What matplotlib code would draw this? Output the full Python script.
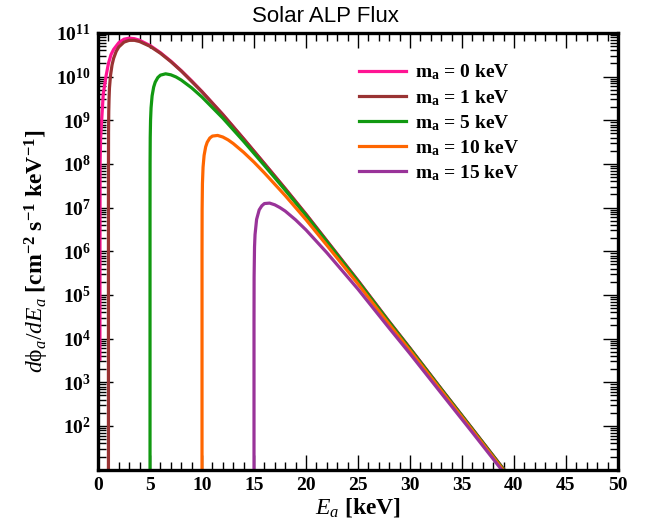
#Solar ALP flux for several axion masses
import numpy as np
import matplotlib.pyplot as plt
from matplotlib.ticker import MultipleLocator, LogLocator, FuncFormatter, NullFormatter

plt.rcParams['font.family'] = 'Liberation Serif'
plt.rcParams['mathtext.fontset'] = 'custom'
plt.rcParams['mathtext.rm'] = 'Liberation Serif'
plt.rcParams['mathtext.it'] = 'Liberation Serif:italic'
plt.rcParams['mathtext.bf'] = 'Liberation Serif:bold'

#values, energy in keV, flux in cm^-2 s^-1 keV^-1
e_m0 = [0.18, 0.185, 0.19, 0.2, 0.25, 0.35, 0.5, 0.76, 1, 1.25, 1.5, 2, 2.5, 3, 3.5, 4, 5, 6, 7,
        8, 9, 10, 12, 14, 16, 18, 20, 22, 25, 28, 30, 33, 36, 39, 40]
flux_m0 = [3.4e3, 1.0e5, 3.0e6, 1.0e8, 4.0e8, 1.0e9, 4.0e9, 1.0e10, 2.0e10,
           3.2e10, 4.2e10, 6.0e10, 7.2e10, 7.6e10, 7.38e10, 6.79e10, 5.15e10, 3.53e10, 2.26e10,
           1.37e10, 8.01e9, 4.53e9, 1.36e9, 3.78e8, 1.02e8, 2.73e7, 7.07e6, 1.74e6, 2.13e5,
           2.45e4, 6.05e3, 712, 86.0, 10.3, 5.0]

e_m1 = [1.0, 1.0001, 1.001, 1.01, 1.03, 1.06, 1.1, 1.2, 1.35, 1.5, 1.75, 2, 2.5, 3, 3.5, 4, 5, 6, 7, 8,
        10, 12, 14, 16, 18, 20, 22, 25, 28, 30, 33, 36, 39, 40]
flux_m1 = [1.0, 5.2e6, 5.2e7, 5.3e8, 1.58e9, 3.18e9, 5.56e9, 1.07e10, 1.87e10, 2.63e10,
           3.80e10, 4.79e10, 6.17e10, 6.78e10, 6.78e10, 6.36e10, 4.94e10, 3.43e10, 2.21e10, 1.35e10,
           4.49e9, 1.35e9, 3.76e8, 1.02e8, 2.72e7, 7.06e6, 1.74e6, 2.13e5, 2.45e4, 6.04e3,
           711, 85.9, 10.3, 5.0]

e_m5 = [5.0, 5.0005, 5.005, 5.02, 5.05, 5.1, 5.2, 5.35, 5.5, 5.75, 6, 6.5, 7, 7.5, 8, 9, 10, 12, 14, 16,
        18, 20, 22, 25, 28, 30, 33, 36, 39, 40]
flux_m5 = [1.0, 1.0e7, 1.03e8, 4.07e8, 9.97e8, 1.93e9, 3.63e9, 5.76e9, 7.47e9, 9.53e9,
           1.08e10, 1.16e10, 1.10e10, 9.82e9, 8.35e9, 5.54e9, 3.40e9, 1.12e9, 3.30e8, 9.24e7,
           2.52e7, 6.62e6, 1.65e6, 2.04e5, 2.37e4, 5.88e3, 697, 84.4, 10.1, 4.91]

e_m10 = [10.0, 10.001, 10.01, 10.04, 10.1, 10.2, 10.35, 10.5, 10.75, 11, 11.5, 12, 12.5, 13, 14, 15,
         16, 18, 20, 22, 25, 28, 30, 33, 36, 39, 40]
flux_m10 = [1.0, 9.06e5, 9.0e6, 3.52e7, 8.43e7, 1.57e8, 2.46e8, 3.14e8, 3.92e8, 4.35e8,
            4.50e8, 4.14e8, 3.57e8, 2.94e8, 1.85e8, 1.10e8, 6.24e7, 1.89e7, 5.30e6, 1.38e6,
            1.79e5, 2.13e4, 5.37e3, 648, 79.4, 9.57, 4.67]

e_m15 = [15.0, 15.001, 15.01, 15.05, 15.1, 15.25, 15.5, 15.75, 16, 16.5, 17, 17.5, 18, 19, 20, 22,
         25, 28, 30, 33, 36, 39, 40]
flux_m15 = [1.0, 2.6e4, 2.59e5, 1.25e6, 2.41e6, 5.38e6, 8.89e6, 1.10e7, 1.24e7, 1.27e7,
            1.16e7, 1.00e7, 8.35e6, 5.25e6, 3.09e6, 9.32e5, 1.36e5, 1.74e4, 4.53e3, 566,
            71.2, 8.73, 4.29]

masses = [0, 1, 5, 10, 15]
colors = ["#ff1493", "#993333", "#119911", "#ff6600", "#993399"]
x_ticks = [0, 5, 10, 15, 20, 25, 30, 35, 40, 45, 50]

curves = [(e_m0, flux_m0), (e_m1, flux_m1), (e_m5, flux_m5), (e_m10, flux_m10), (e_m15, flux_m15)]

fig = plt.figure(figsize=(6.45, 5.23), dpi=100)
ax = fig.add_axes([0.152, 0.102, 0.806, 0.835])

for (e, f), m, c in zip(curves, masses, colors):
    ax.plot(e, f, color=c, lw=2.3, label=r'm$_\mathbf{a}$ = %d keV' % m)

ax.set_yscale('log')
ax.set_xlim(0, 50)
ax.set_ylim(10, 1e11)

#ticks inside on every side
ax.set_xticks(x_ticks)
ax.set_xticklabels([str(t) for t in x_ticks], fontweight='bold', fontsize=14)
ax.xaxis.set_minor_locator(MultipleLocator(1))
ax.set_yticks([10.0**k for k in range(2, 12)])
ax.yaxis.set_major_formatter(FuncFormatter(lambda v, p: r'$\mathbf{10^{%d}}$' % round(np.log10(v))))
ax.yaxis.set_minor_locator(LogLocator(base=10, subs=np.arange(2, 10), numticks=20))
ax.yaxis.set_minor_formatter(NullFormatter())
ax.tick_params(which='both', direction='in', top=True, right=True, width=1)
ax.tick_params(which='major', length=11, labelsize=14, pad=5)
ax.tick_params(which='minor', length=6)

for s in ax.spines.values():
    s.set_linewidth(2.4)

ax.set_xlabel(r'$E_a$ $\mathbf{[keV]}$', fontsize=17, labelpad=2)
ax.set_ylabel(r'$d\mathrm{\phi}_a/dE_a$ $\mathbf{[cm^{-2}\ s^{-1}\ keV^{-1}]}$', fontsize=17, labelpad=4)

fig.text(0.504, 0.969, "Solar ALP Flux", family='Liberation Sans', fontsize=16, ha='center', va='center')

ax.legend(loc='upper left', bbox_to_anchor=(0.469, 0.972), frameon=False,
          prop={'family': 'Liberation Serif', 'weight': 'bold', 'size': 14},
          handlelength=2.4, labelspacing=0.28, handletextpad=0.45)

plt.savefig("out.png", dpi=100)
